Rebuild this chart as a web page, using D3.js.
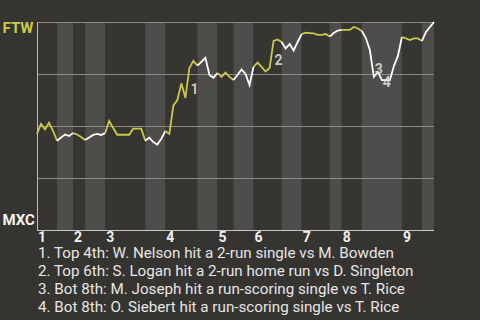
<!DOCTYPE html>
<html>
<head>
<meta charset="utf-8">
<script src="https://cdn.jsdelivr.net/npm/d3@7"></script>
<style>
  html, body { margin: 0; padding: 0; background: #353430; }
  svg { display: block; font-family: Roboto, "Noto Sans", sans-serif; }
</style>
</head>
<body>
<div id="chart"></div>
<script>
// FTW win probability (%) after each play
const winProb = [
  46.2, 51.0, 48.4, 51.6, 47.7, 42.9, 44.5, 45.9, 45.2, 46.6,
  45.9, 44.7, 43.3, 44.5, 45.7, 46.2, 45.7, 46.6, 52.4, 49.0,
  45.8, 45.8, 45.8, 45.8, 48.7, 48.7, 48.7, 42.9, 44.4, 42.3,
  41.1, 43.8, 47.6, 46.2, 59.8, 62.5, 70.5, 63.5, 77.9, 81.3,
  79.0, 80.8, 82.8, 74.5, 73.2, 75.5, 73.6, 75.7, 73.6, 72.1,
  74.5, 77.2, 75.0, 69.7, 78.4, 80.5, 78.4, 76.2, 77.9, 90.9,
  91.6, 90.4, 87.3, 89.4, 86.3, 90.4, 94.2, 94.9, 94.7, 94.5,
  93.8, 93.8, 94.2, 93.0, 94.7, 95.9, 96.2, 96.2, 96.2, 97.6,
  96.9, 95.7, 92.3, 86.5, 73.6, 76.0, 72.1, 72.1, 72.1, 78.8,
  83.7, 92.8, 92.1, 91.3, 92.1, 92.1, 90.9, 95.2, 97.6, 100
];
// play index where each half inning starts (top 1, bot 1, top 2, ...)
const halfStarts = [0, 5, 9, 12, 17, 27, 32, 40, 45, 49, 54, 61, 66, 73, 76, 81, 91, 96];
const innings = ["1", "2", "3", "4", "5", "6", "7", "8", "9"];
const yTicks = [0.25, 0.5, 0.75, 1];
const teams = ["FTW", "MXC"];
// key plays: index of the play segment end
const keyPlays = [38, 59, 84, 86];
const keyNotes = [
  "1. Top 4th: W. Nelson hit a 2-run single vs M. Bowden",
  "2. Top 6th: S. Logan hit a 2-run home run vs D. Singleton",
  "3. Bot 8th: M. Joseph hit a run-scoring single vs T. Rice",
  "4. Bot 8th: O. Siebert hit a run-scoring single vs T. Rice"
];

const width = 480, height = 320;
const margin = { top: 22, right: 46, bottom: 90, left: 37 };
const lastPlay = winProb.length - 1;

const svg = d3.select('#chart').append('svg')
  .attr('width', width)
  .attr('height', height);

svg.append('rect').attr('width', width).attr('height', height).attr('fill', '#353430');

const x = d3.scaleLinear()
  .domain([0, lastPlay])
  .range([margin.left, width - margin.right]);
const y = d3.scaleLinear()
  .domain([0, 1])
  .range([height - margin.bottom, margin.top]);

// half inning bands
const bounds = halfStarts.concat([lastPlay]);
svg.append('g').selectAll('rect')
  .data(halfStarts)
  .enter().append('rect')
    .attr('x', (d, i) => x(d))
    .attr('y', y(1))
    .attr('width', (d, i) => x(bounds[i + 1]) - x(d))
    .attr('height', y(0) - y(1))
    .attr('fill', (d, i) => i % 2 ? '#4e4d4b' : '#363531');

// grid lines
svg.append('g').selectAll('line')
  .data(yTicks)
  .enter().append('line')
    .attr('x1', x(0)).attr('x2', x(lastPlay))
    .attr('y1', d => Math.round(y(d)) + 0.5)
    .attr('y2', d => Math.round(y(d)) + 0.5)
    .attr('stroke', '#8b8a88')
    .attr('stroke-width', 1);

// axes lines
svg.append('line')
  .attr('x1', x(0) + 0.5).attr('x2', x(0) + 0.5)
  .attr('y1', y(1)).attr('y2', y(0))
  .attr('stroke', '#bdbdbb');
svg.append('line')
  .attr('x1', x(0)).attr('x2', x(lastPlay))
  .attr('y1', y(0) + 0.5).attr('y2', y(0) + 0.5)
  .attr('stroke', '#c8c8c6');

// win probability line, one piece per half inning
const line = d3.line()
  .x(d => x(d.i))
  .y(d => y(d.p / 100));

svg.append('g').selectAll('path')
  .data(halfStarts)
  .enter().append('path')
    .attr('d', (d, i) => line(d3.range(d, bounds[i + 1] + 1).map(k => ({ i: k, p: winProb[k] }))))
    .attr('fill', 'none')
    .attr('stroke', (d, i) => i % 2 ? '#ffffff' : '#c9c94c')
    .attr('stroke-width', 1.8)
    .attr('stroke-linejoin', 'miter');

// key play markers
svg.append('g').selectAll('text')
  .data(keyPlays)
  .enter().append('text')
    .attr('x', d => (x(d) + x(d - 1)) / 2 + 3)
    .attr('y', d => (y(winProb[d] / 100) + y(winProb[d - 1] / 100)) / 2 + 11)
    .attr('fill', '#dcdcdc')
    .attr('fill-opacity', 0.9)
    .attr('font-size', 14)
    .attr('font-weight', 'bold')
    .text((d, i) => i + 1);

// inning labels
svg.append('g').selectAll('text')
  .data(innings)
  .enter().append('text')
    .attr('x', (d, i) => x(halfStarts[i * 2]) + 1)
    .attr('y', 242)
    .attr('fill', '#f0f0f0')
    .attr('font-size', 14)
    .attr('font-weight', 'bold')
    .text(d => d);

// team labels
svg.append('text')
  .attr('x', 2.5).attr('y', 33)
  .attr('fill', '#c9c94c')
  .attr('font-size', 15)
  .attr('font-weight', 'bold')
  .text(teams[0]);
svg.append('text')
  .attr('x', 2.5).attr('y', 225)
  .attr('fill', '#f4f4f4')
  .attr('font-size', 15)
  .attr('font-weight', 'bold')
  .text(teams[1]);

// notes
svg.append('g').selectAll('text')
  .data(keyNotes)
  .enter().append('text')
    .attr('x', 38)
    .attr('y', (d, i) => 258 + i * 18)
    .attr('fill', '#e6e6e6')
    .attr('font-size', 15.2)
    .text(d => d);
</script>
</body>
</html>
